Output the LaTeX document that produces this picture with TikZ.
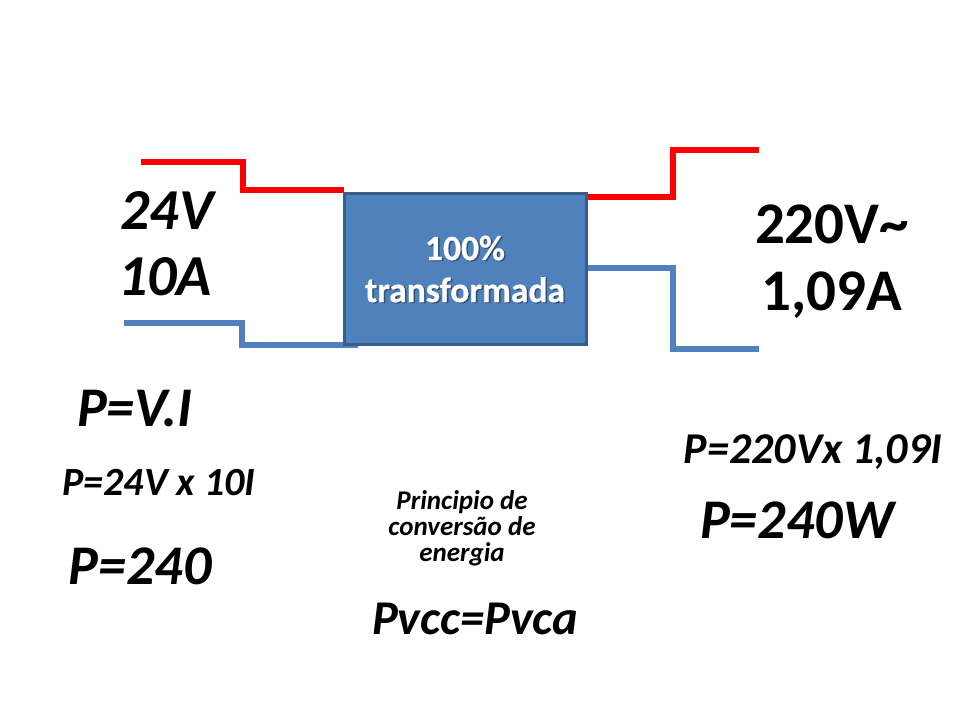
\documentclass[tikz,border=0pt]{standalone}
\usepackage{fontspec}
\setmainfont{Carlito}
\newfontfamily\boxfont[FakeBold=0.6,BoldFont={Carlito Bold}]{Carlito Bold}
\definecolor{bluefill}{HTML}{4F81BD}
\definecolor{blueedge}{HTML}{385D8A}
\tikzset{
 redw/.style={draw=red,line width=6pt,line join=miter},
 bluew/.style={draw=bluefill,line width=6pt,line join=miter},
 lab/.style={inner sep=0pt,anchor=center,align=center},
 labn/.style={inner sep=0pt,anchor=center,align=center}
}
\begin{document}
\begin{tikzpicture}[x=1pt,y=-1pt]
\useasboundingbox (0,0) rectangle (960,720);
\coordinate (a1) at (141,162);\coordinate (a2) at (344,190);
\coordinate (b1) at (124,323);\coordinate (b2) at (358,345);
\coordinate (c1) at (586,197);\coordinate (c2) at (759,150);
\coordinate (d1) at (586,268);\coordinate (d2) at (759,349);
\draw[redw] (a1) -- (243,162) -- (243,190) -- (a2);
\draw[bluew] (b1) -- (242,323) -- (242,345) -- (b2);
\draw[redw] (c1) -- (673,197) -- (673,150) -- (c2);
\draw[bluew] (d1) -- (673,268) -- (673,349) -- (d2);
\node[draw=blueedge,fill=bluefill,line width=2.5pt,minimum width=242pt,minimum height=151pt,inner sep=0pt] (box) at (465.5,269) {};
\node[labn,text=black,opacity=.35,font=\fontsize{35.5}{42}\boxfont\selectfont] at (466.5,270) {100\%\\transformada};
\node[labn,text=white,font=\fontsize{35.5}{42}\boxfont\selectfont] (t) at (465,269) {100\%\\transformada};
\node[lab,font=\fontsize{58}{66}\selectfont\bfseries\itshape] (v1) at (167,210) {24V};
\node[lab,font=\fontsize{58}{66}\selectfont\bfseries\itshape] (a) at (165,277) {10A};
\node[labn,font=\fontsize{59}{70}\selectfont\bfseries] (v2) at (832,224) {220V\textasciitilde};
\node[labn,font=\fontsize{59}{70}\selectfont\bfseries] (a2t) at (832,295) {1,09A};
\node[lab,font=\fontsize{56}{66}\selectfont\bfseries\itshape] (p1) at (135,409) {P=V.I};
\node[lab,font=\fontsize{40}{46}\selectfont\bfseries\itshape] (p2) at (159,483) {P=24V x 10I};
\node[lab,font=\fontsize{56}{66}\selectfont\bfseries\itshape] (p3) at (140,566) {P=240};
\node[lab,font=\fontsize{44}{52}\selectfont\bfseries\itshape] (p4) at (813,452) {P=220Vx 1,09I};
\node[lab,font=\fontsize{27}{26}\selectfont\bfseries\itshape] (pr) at (462,528) {Principio de\\conversão de\\energia};
\node[lab,font=\fontsize{56}{66}\selectfont\bfseries\itshape] (p5) at (797,520) {P=240W};
\node[lab,font=\fontsize{48.5}{56}\selectfont\bfseries\itshape] (pv) at (475,619) {Pvcc=Pvca};
\end{tikzpicture}
\end{document}
